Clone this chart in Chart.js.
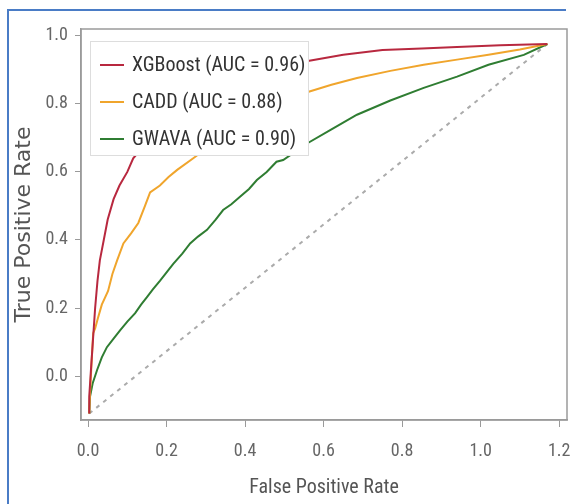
<!DOCTYPE html>
<html>
<head>
<meta charset="utf-8">
<script src="https://cdn.jsdelivr.net/npm/chart.js@4"></script>
<style>
  body { margin: 0; background: #fff; }
  #wrap { position: relative; width: 574px; height: 504px; }
</style>
</head>
<body>
<div id="wrap"><canvas id="rocChart" width="574" height="504"></canvas></div>
<script>
// ROC curves
const xgbFpr = [0.003, 0.003, 0.008, 0.013, 0.018, 0.024, 0.03, 0.04, 0.05, 0.065, 0.08, 0.1, 0.115, 0.16, 0.22, 0.3, 0.4, 0.5, 0.56, 0.65, 0.75, 0.85, 0.94, 1.05, 1.17];
const xgbTpr = [-0.11, -0.06, 0.03, 0.115, 0.2, 0.28, 0.34, 0.40, 0.46, 0.52, 0.56, 0.6, 0.64, 0.7, 0.76, 0.82, 0.87, 0.905, 0.926, 0.944, 0.958, 0.963, 0.967, 0.972, 0.976];

const caddFpr = [0.003, 0.005, 0.009, 0.013, 0.018, 0.025, 0.035, 0.051, 0.062, 0.074, 0.09, 0.11, 0.128, 0.145, 0.158, 0.183, 0.205, 0.227, 0.268, 0.35, 0.45, 0.56, 0.62, 0.685, 0.77, 0.855, 0.94, 1.02, 1.1, 1.17];
const caddTpr = [-0.11, -0.05, 0.04, 0.126, 0.14, 0.17, 0.21, 0.25, 0.3, 0.34, 0.39, 0.42, 0.45, 0.5, 0.54, 0.56, 0.585, 0.606, 0.64, 0.71, 0.78, 0.835, 0.856, 0.876, 0.897, 0.915, 0.93, 0.944, 0.96, 0.976];

const gwavaFpr = [0.003, 0.005, 0.012, 0.023, 0.035, 0.048, 0.065, 0.082, 0.1, 0.12, 0.135, 0.15, 0.165, 0.183, 0.2, 0.217, 0.24, 0.26, 0.28, 0.303, 0.325, 0.344, 0.365, 0.387, 0.41, 0.43, 0.455, 0.48, 0.497, 0.56, 0.62, 0.685, 0.77, 0.855, 0.94, 1.02, 1.11, 1.17];
const gwavaTpr = [-0.11, -0.06, -0.02, 0.018, 0.055, 0.085, 0.11, 0.135, 0.16, 0.185, 0.21, 0.232, 0.255, 0.28, 0.305, 0.33, 0.36, 0.39, 0.41, 0.43, 0.46, 0.488, 0.505, 0.527, 0.55, 0.576, 0.6, 0.63, 0.635, 0.685, 0.725, 0.768, 0.81, 0.847, 0.88, 0.915, 0.944, 0.976];

const diagFpr = [0.003, 1.17];
const diagTpr = [-0.11, 0.976];

const seriesLabels = ['XGBoost (AUC = 0.96)', 'CADD (AUC = 0.88)', 'GWAVA (AUC = 0.90)'];
const xTicks = [0.0, 0.2, 0.4, 0.6, 0.8, 1.0, 1.2];
const yTicks = [0.0, 0.2, 0.4, 0.6, 0.8, 1.0];

const narrow = "'Liberation Sans Narrow', 'Roboto Condensed', 'Liberation Sans', sans-serif";

function pts(xs, ys) {
    return xs.map((x, i) => ({ x: x, y: ys[i] }));
}

// white page, blue edge, plot frame
const framePlugin = {
    id: 'frame',
    beforeDraw(chart) {
        const c = chart.ctx;
        c.save();
        c.fillStyle = '#ffffff';
        c.fillRect(0, 0, chart.width, chart.height);
        c.strokeStyle = '#4a7cc6';
        c.lineWidth = 2;
        c.beginPath();
        c.moveTo(8, 504); c.lineTo(8, 10); c.lineTo(566, 10);
        c.stroke();
        c.restore();
    },
    afterDraw(chart) {
        const a = chart.chartArea, c = chart.ctx;
        c.save();
        c.strokeStyle = '#9a9a9a';
        c.lineWidth = 1.5;
        c.strokeRect(a.left, a.top, a.right - a.left, a.bottom - a.top);
        c.restore();
    }
};

// legend box inside the plot, covering the curves
const boxLegend = {
    id: 'boxLegend',
    afterDatasetsDraw(chart) {
        const c = chart.ctx;
        const x0 = 90, y0 = 41, w = 218, h = 114;
        c.save();
        c.fillStyle = '#ffffff';
        c.fillRect(x0, y0, w, h);
        c.strokeStyle = '#dddddd';
        c.lineWidth = 1;
        c.strokeRect(x0 + 0.5, y0 + 0.5, w, h);
        c.font = '20px ' + narrow;
        c.textBaseline = 'middle';
        c.fillStyle = '#333333';
        chart.data.datasets.slice(0, 3).forEach((ds, i) => {
            const y = 65 + i * 37;
            c.strokeStyle = ds.borderColor;
            c.lineWidth = 2;
            c.beginPath();
            c.moveTo(100, y); c.lineTo(124, y);
            c.stroke();
            c.fillText(ds.label, 132, y + 1);
        });
        c.restore();
    }
};

const ctx = document.getElementById('rocChart').getContext('2d');
new Chart(ctx, {
    type: 'scatter',
    data: {
        datasets: [
            { label: seriesLabels[0], data: pts(xgbFpr, xgbTpr), borderColor: '#b8283f', borderWidth: 2, showLine: true, pointRadius: 0 },
            { label: seriesLabels[1], data: pts(caddFpr, caddTpr), borderColor: '#f0a52c', borderWidth: 2, showLine: true, pointRadius: 0 },
            { label: seriesLabels[2], data: pts(gwavaFpr, gwavaTpr), borderColor: '#2f7d32', borderWidth: 2, showLine: true, pointRadius: 0 },
            { label: 'chance', data: pts(diagFpr, diagTpr), borderColor: '#ababab', borderWidth: 2, borderDash: [4, 5], showLine: true, pointRadius: 0 }
        ]
    },
    options: {
        responsive: false,
        animation: false,
        layout: { padding: { top: 29, right: 7, left: 0, bottom: 0 } },
        plugins: { legend: { display: false }, tooltip: { enabled: false } },
        scales: {
            x: {
                type: 'linear', min: -0.018, max: 1.22,
                afterBuildTicks: axis => { axis.ticks = xTicks.map(v => ({ value: v })); },
                afterFit: scale => { scale.height = 84; scale.paddingLeft = 0; scale.paddingRight = 0; },
                grid: { drawOnChartArea: false, drawTicks: true, tickLength: 7, color: '#9a9a9a' },
                border: { display: true, color: '#9a9a9a', width: 1.5 },
                ticks: { color: '#666', font: { family: narrow, size: 18 }, padding: 14, callback: v => v.toFixed(1) },
                title: { display: true, text: 'False Positive Rate', color: '#555', font: { family: narrow, size: 20 }, padding: { top: 0, bottom: 4 } }
            },
            y: {
                type: 'linear', min: -0.129, max: 1.02,
                afterBuildTicks: axis => { axis.ticks = yTicks.map(v => ({ value: v })); },
                afterFit: scale => { scale.width = 81; },
                grid: { drawOnChartArea: false, drawTicks: true, tickLength: 6, color: '#9a9a9a' },
                border: { display: true, color: '#9a9a9a', width: 1.5 },
                ticks: { color: '#666', font: { family: narrow, size: 18 }, padding: 7, callback: v => v.toFixed(1) },
                title: { display: true, text: 'True Positive Rate', color: '#555', font: { family: "'DejaVu Sans', sans-serif", size: 22 }, padding: { top: 11, bottom: 0 } }
            }
        }
    },
    plugins: [framePlugin, boxLegend]
});
</script>
</body>
</html>
